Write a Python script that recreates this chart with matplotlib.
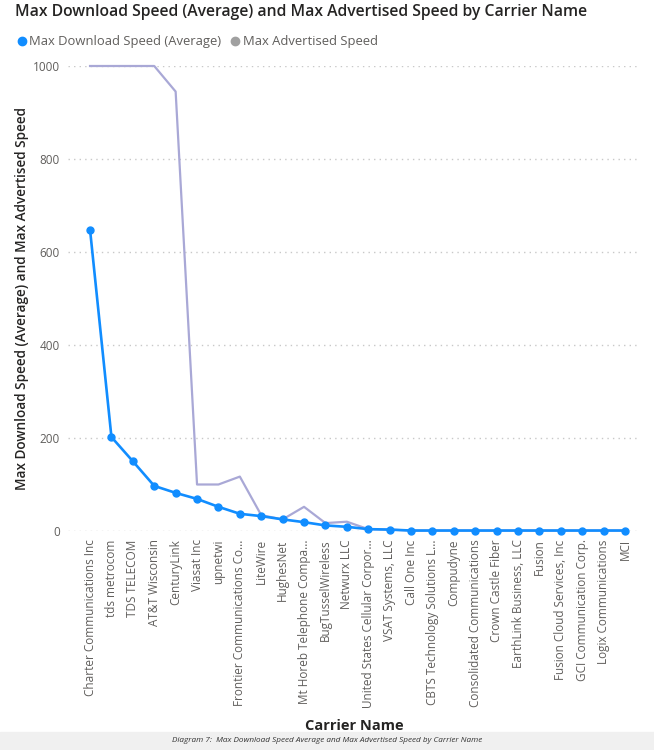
import matplotlib.pyplot as plt
from matplotlib.lines import Line2D
from matplotlib.patches import Rectangle

# data
carriers = ['Charter Communications Inc', 'tds metrocom', 'TDS TELECOM', 'AT&T Wisconsin',
            'CenturyLink', 'Viasat Inc', 'upnetwi', 'Frontier Communications Co...',
            'LiteWire', 'HughesNet', 'Mt Horeb Telephone Compa...', 'BugTusselWireless',
            'Netwurx LLC', 'United States Cellular Corpor...', 'VSAT Systems, LLC',
            'Call One Inc', 'CBTS Technology Solutions L...', 'Compudyne',
            'Consolidated Communications', 'Crown Castle Fiber', 'EarthLink Business, LLC',
            'Fusion', 'Fusion Cloud Services, Inc', 'GCI Communication Corp.',
            'Logix Communications', 'MCI']
max_download_avg = [648, 202, 150, 97, 82, 69, 52, 37, 32, 25, 19, 12, 9, 4, 3,
                    1, 1, 1, 1, 1, 1, 1, 1, 1, 1, 1]
max_advertised = [1000, 1000, 1000, 1000, 945, 100, 100, 117, 34, 25, 52, 17, 20, 4, 3,
                  1, 1, 1, 1, 1, 1, 1, 1, 1, 1, 1]
y_ticks = [0, 200, 400, 600, 800, 1000]

blue = '#118DFF'
lav = '#A9A8D6'
txt = '#605E5C'

plt.rcParams['font.family'] = ['Open Sans', 'DejaVu Sans']

fig = plt.figure(figsize=(6.54, 7.5), dpi=100)
ax = fig.add_axes([68/654, 1-531/750, 572/654, (531-66)/750])

x = list(range(len(carriers)))
ax.plot(x, max_advertised, color=lav, lw=1.6, clip_on=False, zorder=2)
ax.plot(x, max_download_avg, color=blue, lw=1.9, marker='o', ms=5, clip_on=False, zorder=3)

ax.set_xlim(-1.03, 25.7)
ax.set_ylim(0, 1000)
ax.set_yticks(y_ticks)
ax.set_yticklabels([str(v) for v in y_ticks], color=txt, fontsize=8.5)
ax.set_xticks(x)
ax.set_xticklabels(carriers, rotation=90, color=txt, fontsize=8.5)
ax.tick_params(length=0, pad=6)
ax.grid(axis='y', color='#C8C8C8', linestyle=(0, (1, 3)), lw=1)
ax.set_axisbelow(True)
for s in ax.spines.values():
    s.set_visible(False)

ax.set_xlabel('Carrier Name', fontsize=10.5, fontweight='bold', color='#252423', labelpad=8)
ax.set_ylabel('Max Download Speed (Average) and Max Advertised Speed', fontsize=9.8,
              fontweight='semibold', color='#252423')
ax.yaxis.set_label_coords(-0.068, 0.5)

fig.text(15/654, 1-12/750, 'Max Download Speed (Average) and Max Advertised Speed by Carrier Name',
         fontsize=11.3, fontweight='semibold', color='#252423', va='center', ha='left')

handles = [Line2D([], [], ls='', marker='o', ms=6, color=blue),
           Line2D([], [], ls='', marker='o', ms=6, color='#A0A0A0')]
fig.legend(handles, ['Max Download Speed (Average)', 'Max Advertised Speed'],
           loc='center left', bbox_to_anchor=(10/654, 1-42/750), ncol=2, frameon=False,
           handletextpad=0.05, columnspacing=0.6, handlelength=1.0, fontsize=9.4,
           labelcolor=txt, borderaxespad=0)

fig.patches.append(Rectangle((0, 0), 1, 18/750, transform=fig.transFigure,
                             color='#F0F0F0', zorder=0))
fig.text(0.5, 9/750, 'Diagram 7:  Max Download Speed Average and Max Advertised Speed by Carrier Name',
         fontsize=5.9, style='italic', color='#333333', ha='center', va='center')

fig.savefig('out.png', dpi=100)
